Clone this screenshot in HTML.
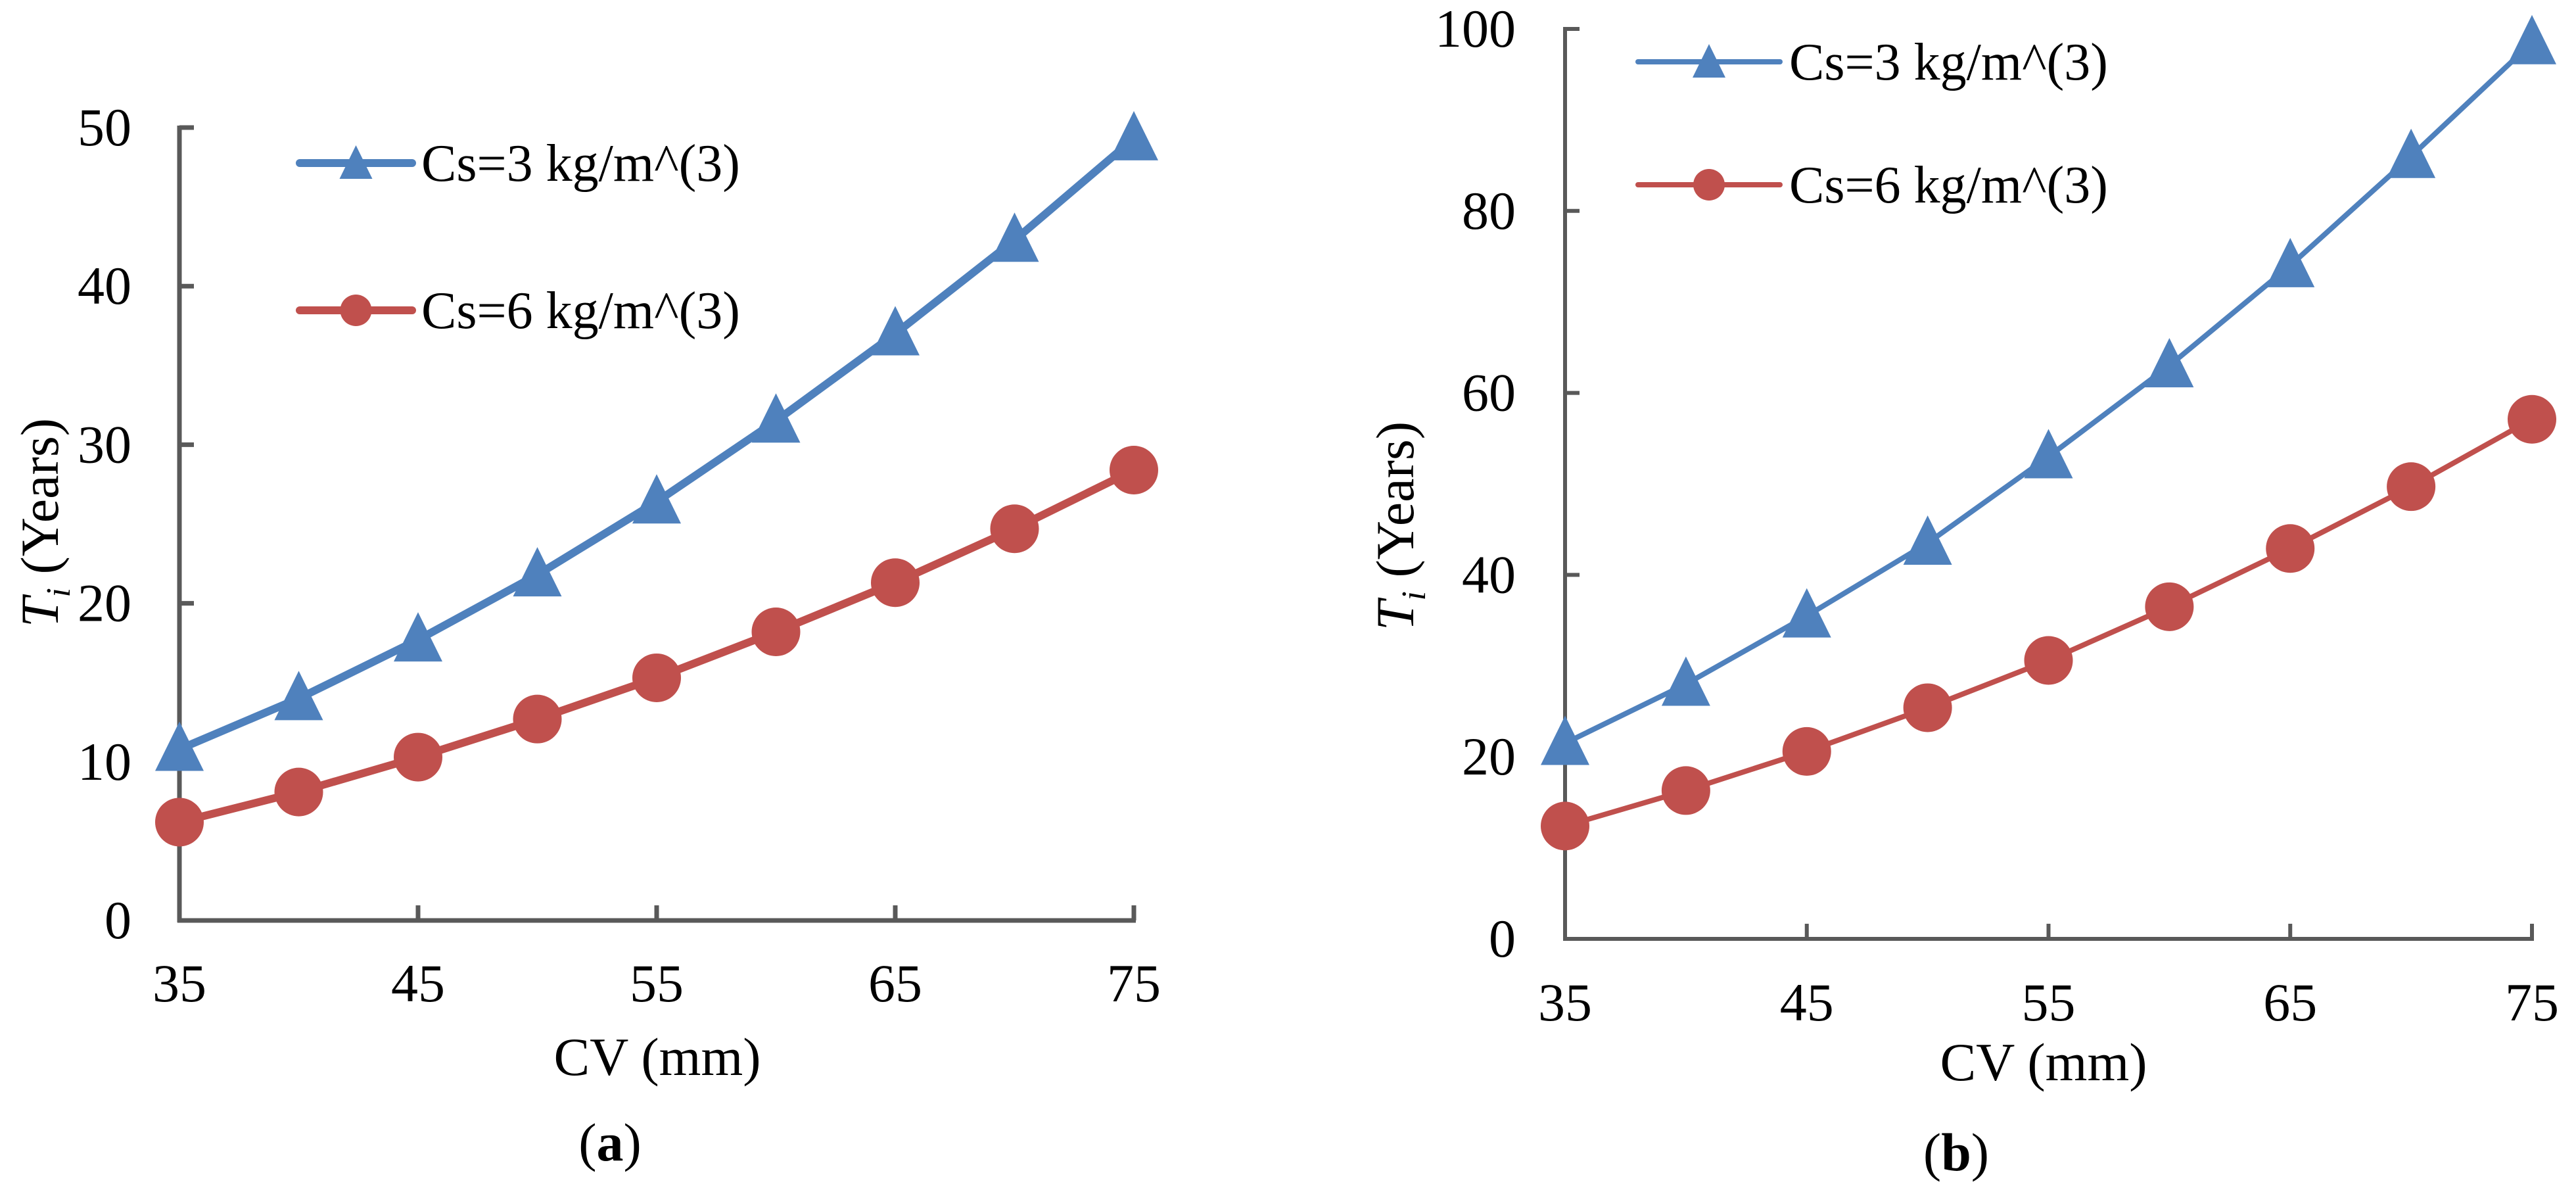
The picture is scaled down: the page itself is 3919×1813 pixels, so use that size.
<!DOCTYPE html>
<html><head><meta charset="utf-8"><style>
html,body{margin:0;padding:0;background:#fff;}
svg{display:block;}
svg text{font-family:"Liberation Serif","Times New Roman",serif;}
</style></head><body>
<svg id="fig" width="3919" height="1813" viewBox="0 0 3919 1813" xmlns="http://www.w3.org/2000/svg" font-family="Liberation Serif, serif"></svg>
<script>
const cvValues = [35,40,45,50,55,60,65,70,75];
const xTickLabels = [35,45,55,65,75];
const aSeriesCs3 = [10.8,14.0,17.7,21.8,26.4,31.5,37.0,42.9,49.3];
const aSeriesCs6 = [6.2,8.1,10.3,12.7,15.3,18.2,21.3,24.7,28.4];
const aYTicks = [0,10,20,30,40,50];
const bSeriesCs3 = [21.5,28.0,35.5,43.5,53.0,63.0,74.0,86.0,98.5];
const bSeriesCs6 = [12.4,16.3,20.6,25.4,30.6,36.5,42.9,49.7,57.1];
const bYTicks = [0,20,40,60,80,100];
const legendLabels = ["Cs=3 kg/m^(3)","Cs=6 kg/m^(3)"];

const NS="http://www.w3.org/2000/svg";
const svg=document.getElementById('fig');
const FONT='"Liberation Serif", "Times New Roman", serif';
function mk(tag,attrs,parent){const e=document.createElementNS(NS,tag);for(const k in attrs)e.setAttribute(k,attrs[k]);if(tag==='text')e.setAttribute('font-family',FONT);(parent||svg).appendChild(e);return e;}

function drawPanel(cfg){
  const g=mk('g',{});
  
  
  const xS=v=>cfg.x0+(v-35)/(75-35)*(cfg.x1-cfg.x0);
  const yS=v=>cfg.y0-(v/cfg.ymax)*(cfg.y0-cfg.y1);
  const ax='#595959';
  const ya=mk('line',{x1:cfg.x0,y1:cfg.y0+3,x2:cfg.x0,y2:yS(cfg.ymax)-3,stroke:ax,'stroke-width':cfg.axw},g);
  
  
  const xa=mk('line',{x1:cfg.x0-3,y1:cfg.y0,x2:xS(75)+3,y2:cfg.y0,stroke:ax,'stroke-width':cfg.axw},g);
  
  
  cfg.yticks.forEach(t=>{
    const y=yS(t);
    const tk=mk('line',{x1:cfg.x0,y1:y,x2:cfg.x0+22,y2:y,stroke:ax,'stroke-width':cfg.axw},g);
    
    
    const tl=mk('text',{x:cfg.ylabRight,y:y+27,'text-anchor':'end','font-size':82},g);
    tl.textContent=t;
    
    
  });
  xTickLabels.forEach(t=>{
    const x=xS(t);
    const tk=mk('line',{x1:x,y1:cfg.y0,x2:x,y2:cfg.y0-23,stroke:ax,'stroke-width':cfg.axw},g);
    
    
    const tl=mk('text',{x:x,y:cfg.xlabY,'text-anchor':'middle','font-size':82},g);
    tl.textContent=t;
    
    
  });
  const xt=mk('text',{x:cfg.xTitleX,y:cfg.xTitleY,'text-anchor':'middle','font-size':82},g);
  xt.textContent='CV (mm)';
  
  
  const yt=mk('text',{transform:`translate(${cfg.yTitleX},${cfg.yTitleY}) rotate(-90)`,'text-anchor':'middle','font-size':82},g);
  yt.innerHTML='<tspan font-style="italic">T</tspan><tspan font-style="italic" font-size="52" dy="18">i</tspan><tspan dy="-18"> (Years)</tspan>';
  
  
  const cap=mk('text',{x:cfg.capX,y:cfg.capY,'text-anchor':'middle','font-size':82},g);
  cap.innerHTML='(<tspan font-weight="bold">'+cfg.cap+'</tspan>)';
  
  
  const series=[{vals:cfg.s3,color:'#4F81BD',mark:'tri',nm:'series-cs3'},{vals:cfg.s6,color:'#C0504D',mark:'circ',nm:'series-cs6'}];
  series.forEach((s,si)=>{
    const pts=s.vals.map((v,i)=>xS(cvValues[i]).toFixed(1)+','+yS(v).toFixed(1)).join(' ');
    const pl=mk('polyline',{points:pts,fill:'none',stroke:s.color,'stroke-width':cfg.lw,'stroke-linejoin':'round'},g);
    
    
    s.vals.forEach((v,i)=>{
      const cx=xS(cvValues[i]),cy=yS(v);
      let m;
      if(s.mark==='tri'){
        m=mk('polygon',{points:`${cx},${cy-42} ${cx-37},${cy+33} ${cx+37},${cy+33}`,fill:s.color},g);
      }else{
        m=mk('circle',{cx:cx,cy:cy,r:37,fill:s.color},g);
      }
      
      
    });
    const ly=cfg.legY[si];
    const ll=mk('line',{x1:cfg.legX0,y1:ly,x2:cfg.legX1,y2:ly,stroke:s.color,'stroke-width':cfg.lw,'stroke-linecap':'round'},g);
    
    
    const mx=(cfg.legX0+cfg.legX1)/2;
    let lm;
    if(s.mark==='tri') lm=mk('polygon',{points:`${mx},${ly-27} ${mx-25},${ly+24} ${mx+25},${ly+24}`,fill:s.color},g);
    else lm=mk('circle',{cx:mx,cy:ly,r:24,fill:s.color},g);
    
    
    const lt=mk('text',{x:cfg.legX1+14,y:ly+27,'font-size':80},g);
    lt.textContent=legendLabels[si];
    
    
  });
}

drawPanel({name:'panel-a',x0:273,x1:1725,y0:1400,y1:194,ymax:50,yticks:aYTicks,s3:aSeriesCs3,s6:aSeriesCs6,
  axw:7,lw:12,ylabRight:200,xlabY:1523,xTitleX:1000,xTitleY:1635,yTitleX:88,yTitleY:795,capX:928,capY:1765,cap:'a',
  legX0:456,legX1:627,legY:[248,472]});
drawPanel({name:'panel-b',x0:2381,x1:3852,y0:1428,y1:44,ymax:100,yticks:bYTicks,s3:bSeriesCs3,s6:bSeriesCs6,
  axw:6,lw:8,ylabRight:2306,xlabY:1552,xTitleX:3109,xTitleY:1643,yTitleX:2150,yTitleY:800,capX:2976,capY:1780,cap:'b',
  legX0:2492,legX1:2708,legY:[94,281]});
</script>
</body></html>
